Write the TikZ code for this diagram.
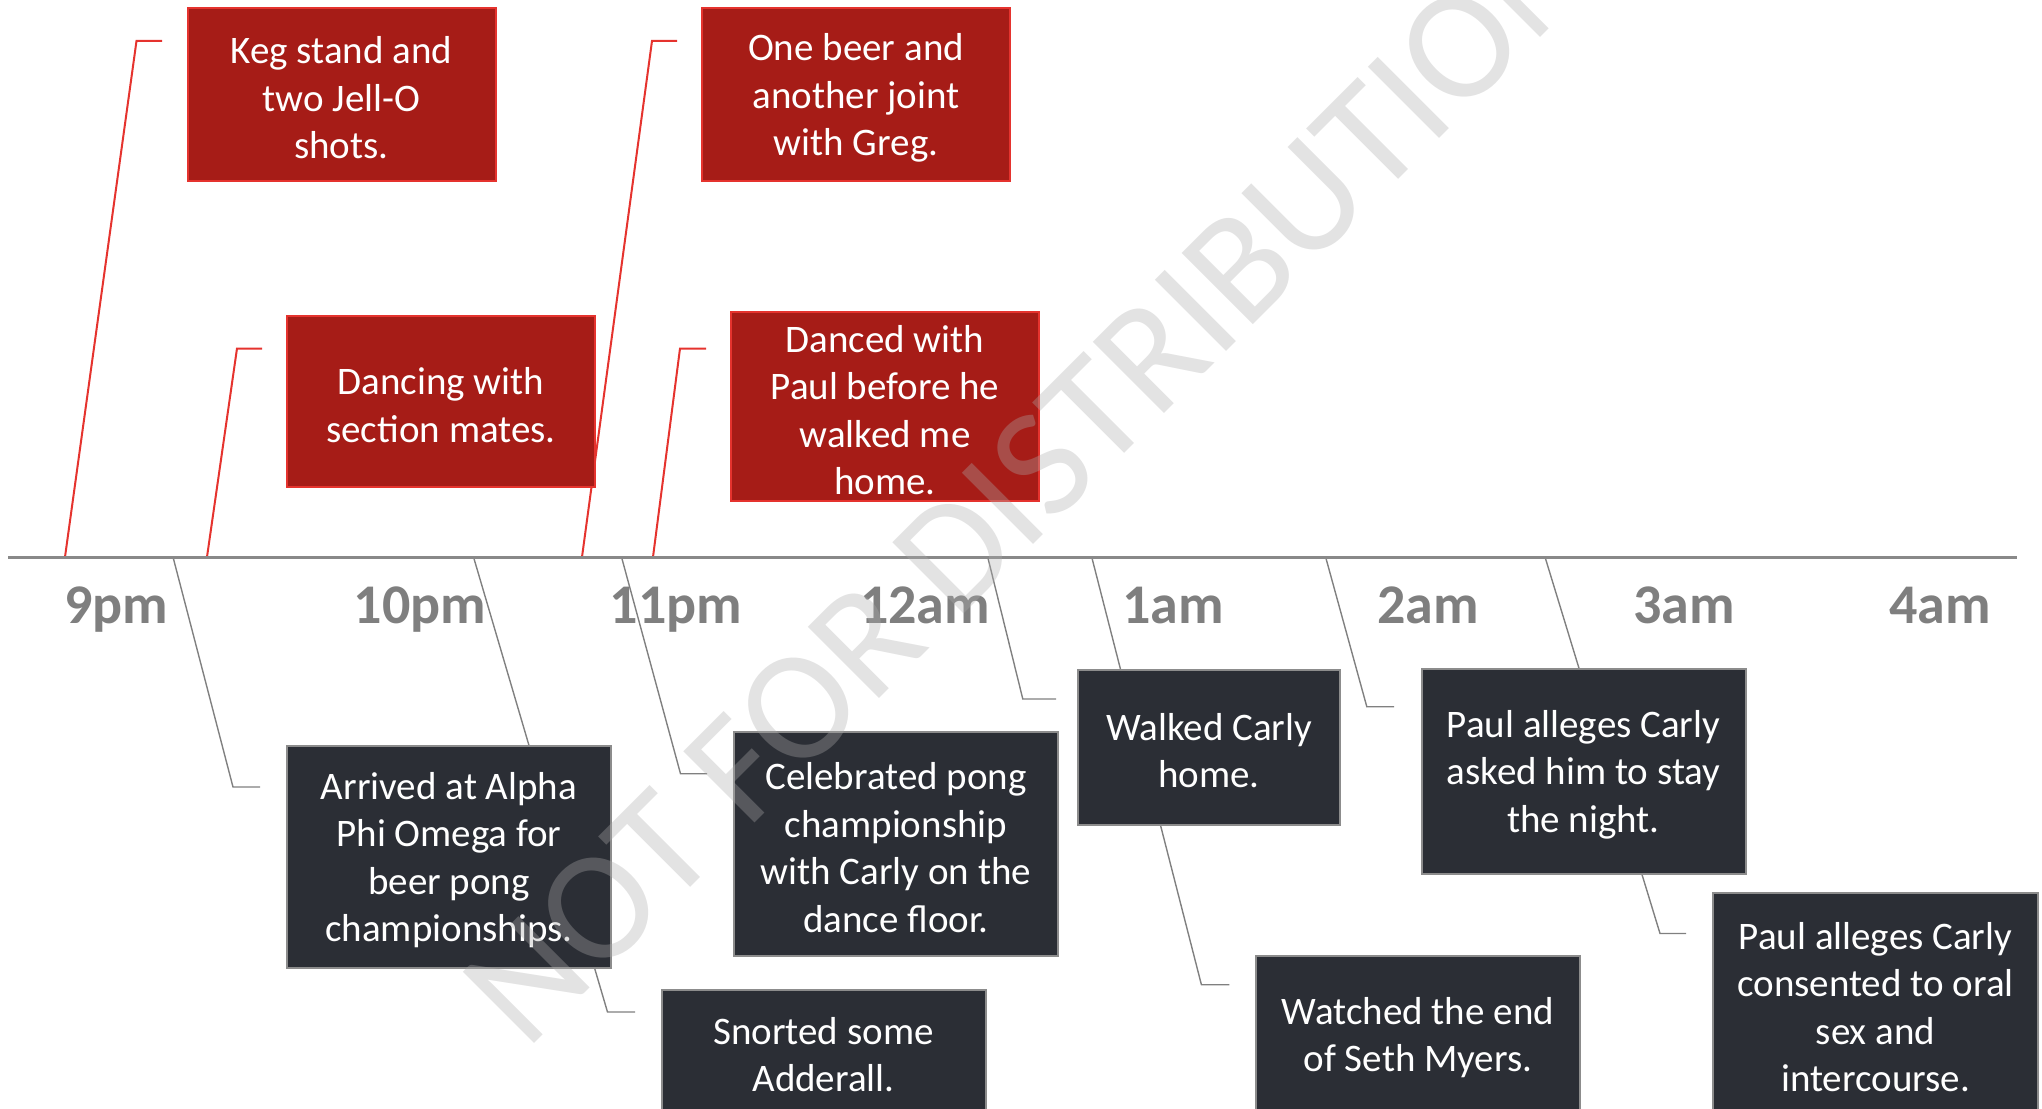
\documentclass[tikz,border=0pt]{standalone}
\usepackage{fontspec}
\setmainfont{Carlito}
\definecolor{redfill}{HTML}{A61C17}
\definecolor{redline}{HTML}{E5332E}
\definecolor{darkfill}{HTML}{2B2E35}
\definecolor{darkline}{HTML}{8C8C8C}
\definecolor{axisgray}{HTML}{898989}
\definecolor{labelgray}{HTML}{7F7F7F}
\definecolor{conngray}{HTML}{808080}
\definecolor{wmgray}{HTML}{ACACAC}
\tikzset{
  boxtext/.style={text=white, align=center, inner sep=0pt, yshift=-3.5pt,
    font=\fontsize{39}{47.5}\selectfont},
  boxshape/.style={line width=2pt, inner sep=0pt},
  redbox/.style={boxshape, draw=redline, fill=redfill},
  darkbox/.style={boxshape, draw=darkline, fill=darkfill},
  redconn/.style={draw=redline, line width=2pt},
  grayconn/.style={draw=conngray, line width=1.4pt},
  timelbl/.style={text=labelgray, anchor=base, inner sep=0pt,
    font=\fontsize{56}{62}\selectfont\bfseries},
  axisline/.style={draw=axisgray, line width=3pt}
}
\begin{document}
\begin{tikzpicture}[x=1pt,y=1pt]
\useasboundingbox (0,0) rectangle (2042,-1108);
\clip (0,0) rectangle (2042,-1108);

% timeline
\coordinate (axL) at (8,-557);
\coordinate (axR) at (2017,-557);

% red connector points
\coordinate (rt1) at (65,-557);   \coordinate (rk1) at (136.5,-41);  \coordinate (re1) at (162,-41);
\coordinate (rt2) at (207,-557);  \coordinate (rk2) at (237,-348.5); \coordinate (re2) at (262,-348.5);
\coordinate (rt3) at (582,-557);  \coordinate (rk3) at (652,-41);    \coordinate (re3) at (677,-41);
\coordinate (rt4) at (653,-557);  \coordinate (rk4) at (680,-348.5); \coordinate (re4) at (706,-348.5);

% gray connector points
\coordinate (gt1) at (173,-557);    \coordinate (gk1) at (233,-787);     \coordinate (ge1) at (260,-787);
\coordinate (gt2) at (473.5,-557);  \coordinate (gk2) at (607.5,-1012);  \coordinate (ge2) at (635,-1012);
\coordinate (gt3) at (621.5,-557);  \coordinate (gk3) at (680.5,-773.7); \coordinate (ge3) at (707,-773.7);
\coordinate (gt4) at (987.7,-557);  \coordinate (gk4) at (1022.8,-699);  \coordinate (ge4) at (1056,-699);
\coordinate (gt5) at (1091.7,-557); \coordinate (gk5) at (1201.4,-984.7);\coordinate (ge5) at (1229.3,-984.7);
\coordinate (gt6) at (1325.6,-557); \coordinate (gk6) at (1366.8,-706.7);\coordinate (ge6) at (1394,-706.7);
\coordinate (gt7) at (1545,-557);   \coordinate (gk7) at (1660,-933.5);  \coordinate (ge7) at (1686,-933.5);

% connectors
\draw[redconn] (rt1) -- (rk1) -- (re1);
\draw[redconn] (rt2) -- (rk2) -- (re2);
\draw[redconn] (rt3) -- (rk3) -- (re3);
\draw[redconn] (rt4) -- (rk4) -- (re4);
\draw[grayconn] (gt1) -- (gk1) -- (ge1);
\draw[grayconn] (gt2) -- (gk2) -- (ge2);
\draw[grayconn] (gt3) -- (gk3) -- (ge3);
\draw[grayconn] (gt4) -- (gk4) -- (ge4);
\draw[grayconn] (gt5) -- (gk5) -- (ge5);
\draw[grayconn] (gt6) -- (gk6) -- (ge6);
\draw[grayconn] (gt7) -- (gk7) -- (ge7);

\draw[axisline] (axL) -- (axR);

% red boxes
\node[redbox, minimum width=308pt, minimum height=172pt,
  label={[boxtext]center:{Keg stand and\\two Jell-O\\shots.}}] (r1) at (341.5,-94.5) {};
\node[redbox, minimum width=308.5pt, minimum height=171pt,
  label={[boxtext]center:{Dancing with\\section mates.}}] (r2) at (441,-401.5) {};
\node[redbox, minimum width=308pt, minimum height=172pt,
  label={[boxtext]center:{One beer and\\another joint\\with Greg.}}] (r3) at (856,-94.5) {};
\node[redbox, minimum width=308pt, minimum height=189pt,
  label={[boxtext]center:{Danced with\\Paul before he\\walked me\\home.}}] (r4) at (885,-406.5) {};

% dark boxes
\node[darkbox, minimum width=324pt, minimum height=222pt,
  label={[boxtext]center:{Arrived at Alpha\\Phi Omega for\\beer pong\\championships.}}] (dA) at (449,-856.5) {};
\node[darkbox, minimum width=324pt, minimum height=122pt,
  label={[boxtext]center:{Snorted some\\Adderall.}}] (dB) at (823.5,-1051) {};
\node[darkbox, minimum width=324pt, minimum height=224.5pt,
  label={[boxtext]center:{Celebrated pong\\championship\\with Carly on the\\dance floor.}}] (dC) at (896,-844) {};
\node[darkbox, minimum width=262pt, minimum height=155pt,
  label={[boxtext]center:{Walked Carly\\home.}}] (dD) at (1209,-747) {};
\node[darkbox, minimum width=324pt, minimum height=157pt,
  label={[boxtext]center:{Watched the end\\of Seth Myers.}}] (dE) at (1418,-1034) {};
\node[darkbox, minimum width=324pt, minimum height=205pt,
  label={[boxtext]center:{Paul alleges Carly\\asked him to stay\\the night.}}] (dF) at (1583.5,-771) {};
\node[darkbox, minimum width=325pt, minimum height=220pt,
  label={[boxtext]center:{Paul alleges Carly\\consented to oral\\sex and\\intercourse.}}] (dG) at (1875.5,-1003.4) {};

% time labels
\node[timelbl] (h9)  at (116,-623)  {9pm};
\node[timelbl] (h10) at (420,-623)  {10pm};
\node[timelbl] (h11) at (676,-623)  {11pm};
\node[timelbl] (h12) at (925,-623)  {12am};
\node[timelbl] (h1)  at (1173,-623) {1am};
\node[timelbl] (h2)  at (1428,-623) {2am};
\node[timelbl] (h3)  at (1684,-623) {3am};
\node[timelbl] (h4)  at (1940,-623) {4am};

% watermark
\node[anchor=base west, rotate=45, inner sep=0pt, text=wmgray, text opacity=0.34,
  font=\fontsize{157}{160}\selectfont] (wm) at (526,-1052) {NOT FOR DISTRIBUTION};
\end{tikzpicture}
\end{document}
